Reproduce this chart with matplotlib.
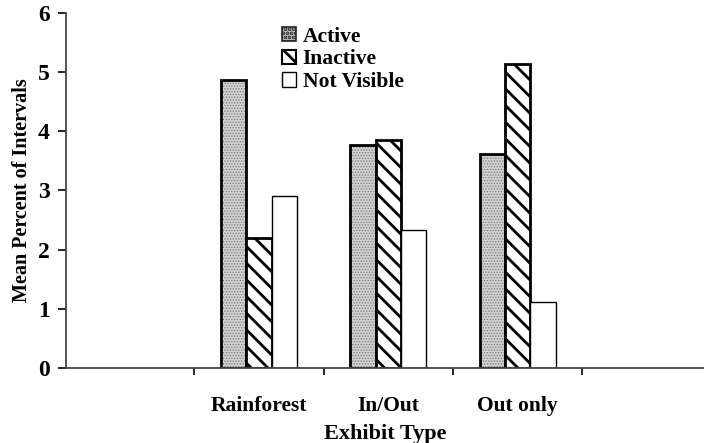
"""Mean percent of intervals by exhibit type, grouped bar chart."""

import matplotlib.pyplot as plt
import numpy as np

plt.rcParams['font.family'] = 'Liberation Serif'
plt.rcParams['font.weight'] = 'bold'

# Data
categories = ['Rainforest', 'In/Out', 'Out only']
active = [4.86, 3.76, 3.62]
inactive = [2.2, 3.86, 5.13]
not_visible = [2.91, 2.34, 1.12]

fig = plt.figure(figsize=(7.04, 4.43), dpi=100)
ax = fig.add_axes([0.094, 0.169, 0.906, 0.802])

x = np.arange(1, len(categories) + 1)
w = 0.195

# Active: light grey dotted fill, drawn as fill layer + outline layer
plt.rcParams['hatch.linewidth'] = 0.6
ax.bar(x - w, active, w, facecolor='#d0d0d0', edgecolor='#7a7a7a',
       hatch='......', linewidth=0)
ax.bar(x - w, active, w, fill=False, edgecolor='black', linewidth=2)

plt.rcParams['hatch.linewidth'] = 2.0
ax.bar(x, inactive, w, facecolor='white', edgecolor='black',
       hatch='\\\\', linewidth=2)
ax.bar(x + w, not_visible, w, facecolor='white', edgecolor='black',
       linewidth=1)

# Legend proxies
plt.rcParams['hatch.linewidth'] = 0.5
h1 = plt.Rectangle((0, 0), 1, 1, facecolor='#c8c8c8', edgecolor='#222222',
                   hatch='....', linewidth=1.2)
plt.rcParams['hatch.linewidth'] = 2.0
h2 = plt.Rectangle((0, 0), 1, 1, facecolor='white', edgecolor='black',
                   hatch='\\\\', linewidth=1.5)
h3 = plt.Rectangle((0, 0), 1, 1, facecolor='white', edgecolor='black',
                   linewidth=1)

ax.set_xlim(-0.49, 4.44)
ax.set_ylim(0, 6)
ax.set_yticks(range(7))
ax.set_xticks(x)
ax.set_xticklabels(categories, fontsize=15.5, fontweight='bold')
ax.set_xticks([0.5, 1.5, 2.5, 3.5], minor=True)
ax.tick_params(axis='x', which='major', length=0, pad=20)
ax.tick_params(axis='x', which='minor', length=5, width=1.2, direction='out')
ax.tick_params(axis='y', length=6, width=1.2, labelsize=17, pad=6)
for lab in ax.get_yticklabels():
    lab.set_fontweight('bold')

ax.spines['top'].set_visible(False)
ax.spines['right'].set_visible(False)
ax.spines['left'].set_color('#444444')
ax.spines['bottom'].set_color('#444444')
ax.spines['left'].set_linewidth(1.3)
ax.spines['bottom'].set_linewidth(1.3)

ax.set_xlabel('Exhibit Type', fontsize=16, fontweight='bold', labelpad=6)
ax.set_ylabel('Mean Percent of Intervals', fontsize=14.5, fontweight='bold',
              labelpad=4)

ax.legend([h1, h2, h3], ['Active', 'Inactive', 'Not Visible'],
          loc='upper left', bbox_to_anchor=(0.325, 0.985), frameon=False,
          prop={'size': 15.5, 'weight': 'bold'}, handlelength=0.65,
          handleheight=0.65, handletextpad=0.3, labelspacing=0.12,
          borderaxespad=0)

fig.savefig('out.png', dpi=100)
